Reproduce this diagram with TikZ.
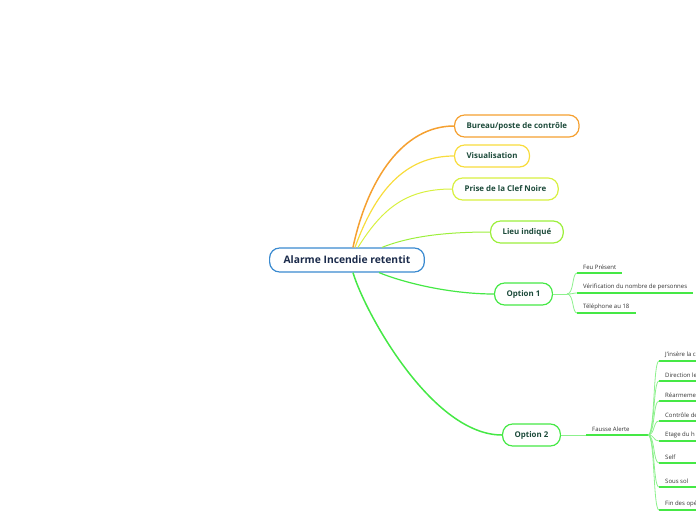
\documentclass[tikz,border=0pt]{standalone}
\usepackage{fontspec}
\setmainfont{Open Sans}
\definecolor{rootblue}{HTML}{3A8AD0}
\definecolor{roottext}{HTML}{1B2B4B}
\definecolor{boxtext}{HTML}{1D4B3B}
\definecolor{orangeA}{HTML}{F5A030}
\definecolor{yellowA}{HTML}{F8DC3C}
\definecolor{limeA}{HTML}{D8F040}
\definecolor{lightgreen}{HTML}{9CEF3C}
\definecolor{greenA}{HTML}{45E845}
\definecolor{branchgreen}{HTML}{8CF08C}
\definecolor{leaftext}{HTML}{333333}
\begin{document}
\begin{tikzpicture}[x=1pt,y=-1pt]
\tikzstyle{topic}=[draw,rounded corners=10pt,line width=1.2pt,fill=white,minimum height=22pt,inner xsep=12pt,font=\bfseries\fontsize{7.9}{9}\selectfont,text=boxtext,anchor=west]
\tikzstyle{leaf}=[anchor=south west,inner xsep=6pt,inner ysep=3pt,font=\fontsize{6}{7}\selectfont,text=leaftext]
\tikzstyle{uline}=[draw,line width=1.4pt,greenA]
\tikzstyle{branch}=[draw,line width=0.8pt,branchgreen]
\useasboundingbox (0,0) rectangle (696,520);
\clip (0,0) rectangle (696,520);
% main topics
\node[topic,draw=rootblue,text=roottext,minimum height=24pt,inner xsep=14pt,font=\bfseries\fontsize{10.3}{12}\selectfont](root) at (269,260){Alarme Incendie retentit};
\node[topic,draw=orangeA](bureau) at (454,126){Bureau/poste de contrôle};
\node[topic,draw=yellowA](visu) at (454,156){Visualisation};
\node[topic,draw=limeA](clef) at (452,189){Prise de la Clef Noire};
\node[topic,draw=lightgreen](lieu) at (490,232){Lieu indiqué};
\node[topic,draw=greenA](opt1) at (494,294){Option 1};
\node[topic,draw=greenA](opt2) at (502,435){Option 2};
% links from the root
\path[draw,orangeA,line width=1.5pt]([xshift=6pt]root.north)..controls +(15,-70) and +(-50,0)..(bureau.west);
\path[draw,yellowA,line width=1.2pt]([xshift=8pt]root.north)..controls +(20,-55) and +(-50,0)..(visu.west);
\path[draw,limeA,line width=1pt]([xshift=11pt]root.north)..controls +(25,-40) and +(-45,0)..(clef.west);
\path[draw,lightgreen,line width=1pt]([xshift=35pt]root.north)..controls +(30,-12) and +(-40,0)..(lieu.west);
\path[draw,greenA,line width=1.2pt]([xshift=32pt]root.south)..controls +(30,12) and +(-40,0)..(opt1.west);
\path[draw,greenA,line width=1.5pt]([xshift=6pt]root.south)..controls +(12,40) and +(-70,0)..(opt2.west);
% Option 1
\node[leaf](feu) at (577,273){Feu Présent};
\node[leaf](verif) at (577,293){Vérification du nombre de personnes};
\node[leaf](tel) at (577,313){Téléphone au 18};
\coordinate(fork1) at (567,294);
\path[branch](opt1.east)--(fork1);
\foreach \n in {feu,verif,tel}{
  \path[branch](fork1)..controls +(7,0) and +(-5,0)..(\n.south west);
  \path[uline](\n.south west)--(\n.south east);
}
% Option 2
\node[leaf](fausse) at (586,435){Fausse Alerte};
\coordinate(fork2) at (648,435);
\path[branch](opt2.east)--(fausse.south west);
\path[uline](fausse.south west)--(fork2);
\node[leaf](jins) at (659,361){J'insère la c};
\node[leaf](direc) at (659,381){Direction le};
\node[leaf](rearm) at (659,401){Réarmeme};
\node[leaf](ctrl) at (659,421){Contrôle de};
\node[leaf](etage) at (659,441){Etage du h};
\node[leaf](self) at (659,463){Self};
\node[leaf](ssol) at (659,487){Sous sol};
\node[leaf](fin) at (659,510){Fin des opé};
\foreach \n in {jins,direc,rearm,ctrl,etage,self,ssol,fin}{
  \path[branch](fork2)..controls +(7,0) and +(-6,0)..(\n.south west);
  \path[uline](\n.south west)--++(45,0);
}
\end{tikzpicture}
\end{document}
